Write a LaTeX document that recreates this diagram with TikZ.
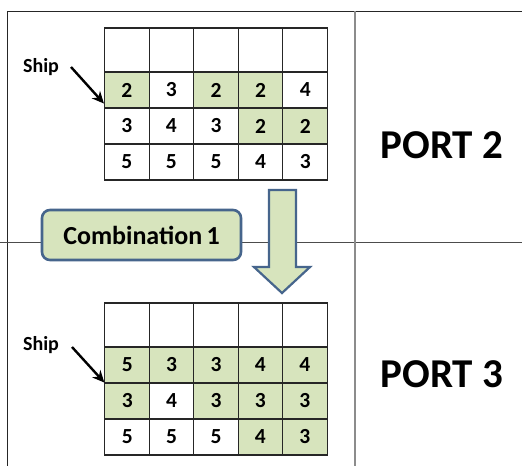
\documentclass[tikz,border=0pt]{standalone}
\usepackage{fontspec}
\setmainfont{Carlito}
\usetikzlibrary{arrows.meta,calc}
\definecolor{cellgreen}{HTML}{D7E4BD}
\definecolor{boxblue}{HTML}{46658C}
\tikzset{
  cellbox/.style={draw=black!85, line width=1.1pt, minimum width=44.6pt, minimum height=36pt, inner sep=0pt, font=\bfseries\fontsize{21.5}{21.5}\selectfont},
  topcell/.style={cellbox, minimum height=44pt},
  shiplabel/.style={font=\bfseries\fontsize{20}{20}\selectfont, inner sep=0pt},
  portlabel/.style={font=\bfseries\fontsize{41}{41}\selectfont, inner sep=0pt},
  shiparrow/.style={-{Stealth[length=12pt,width=11pt]}, line width=2.4pt},
  frameline/.style={line width=0.9pt, black!85},
}
\begin{document}
\begin{tikzpicture}[x=1pt,y=-1pt]
\useasboundingbox (0,0) rectangle (522,466);
\fill[white] (0,0) rectangle (522,466);
% frame lines
\draw[frameline] (7,11) -- (522,11);
\draw[frameline] (7,11) -- (7,466);
\draw[frameline, black!70] (0,242) -- (522,242);
\draw[line width=1.2pt, black!45] (355,11) -- (355,466);

% top grid (Port 2)
\foreach \c in {0,...,4} {
  \node[topcell] (a0\c) at ({104.5+44.6*\c+22.3},50) {};
}
\foreach \c/\v/\g in {0/2/1,1/3/0,2/2/1,3/2/1,4/4/0} {
  \ifnum\g=1 \node[cellbox, fill=cellgreen] (a1\c) at ({104.5+44.6*\c+22.3},90) {\v};
  \else \node[cellbox] (a1\c) at ({104.5+44.6*\c+22.3},90) {\v}; \fi
}
\foreach \c/\v/\g in {0/3/0,1/4/0,2/3/0,3/2/1,4/2/1} {
  \ifnum\g=1 \node[cellbox, fill=cellgreen] (a2\c) at ({104.5+44.6*\c+22.3},126) {\v};
  \else \node[cellbox] (a2\c) at ({104.5+44.6*\c+22.3},126) {\v}; \fi
}
\foreach \c/\v in {0/5,1/5,2/5,3/4,4/3} {
  \node[cellbox] (a3\c) at ({104.5+44.6*\c+22.3},162) {\v};
}

% bottom grid (Port 3)
\foreach \c in {0,...,4} {
  \node[topcell] (b0\c) at ({105+44.4*\c+22.2},325) {};
}
\foreach \c/\v in {0/5,1/3,2/3,3/4,4/4} {
  \node[cellbox, fill=cellgreen] (b1\c) at ({105+44.4*\c+22.2},365) {\v};
}
\foreach \c/\v/\g in {0/3/1,1/4/0,2/3/1,3/3/1,4/3/1} {
  \ifnum\g=1 \node[cellbox, fill=cellgreen] (b2\c) at ({105+44.4*\c+22.2},401) {\v};
  \else \node[cellbox] (b2\c) at ({105+44.4*\c+22.2},401) {\v}; \fi
}
\foreach \c/\v/\g in {0/5/0,1/5/0,2/5/0,3/4/1,4/3/1} {
  \ifnum\g=1 \node[cellbox, fill=cellgreen] (b3\c) at ({105+44.4*\c+22.2},437) {\v};
  \else \node[cellbox] (b3\c) at ({105+44.4*\c+22.2},437) {\v}; \fi
}

% Ship labels and arrows
\node[shiplabel] (ship1) at (41,67) {Ship};
\coordinate (s1from) at (71,67);
\draw[shiparrow] (s1from) -- ($(a10.south west)+(0,-5)$);
\node[shiplabel] (ship2) at (41,345) {Ship};
\coordinate (s2from) at (72,347);
\draw[shiparrow] (s2from) -- ($(b10.south west)+(0,-1)$);

% Combination box
\node[draw=boxblue, line width=2.6pt, fill=cellgreen, rounded corners=8pt,
      minimum width=199pt, minimum height=50pt, inner sep=0pt,
      font=\bfseries\fontsize{26}{26}\selectfont] (combo) at (141.5,235) {Combination\,1};

% block arrow
\draw[boxblue, line width=2.2pt, fill=cellgreen, line join=miter]
  (269,190) -- (296,190) -- (296,267) -- (310,267) -- (282,293) -- (254,267) -- (269,267) -- cycle;

% port labels
\node[portlabel] (port2) at (442,145) {PORT 2};
\node[portlabel] (port3) at (442,374) {PORT 3};
\end{tikzpicture}
\end{document}
